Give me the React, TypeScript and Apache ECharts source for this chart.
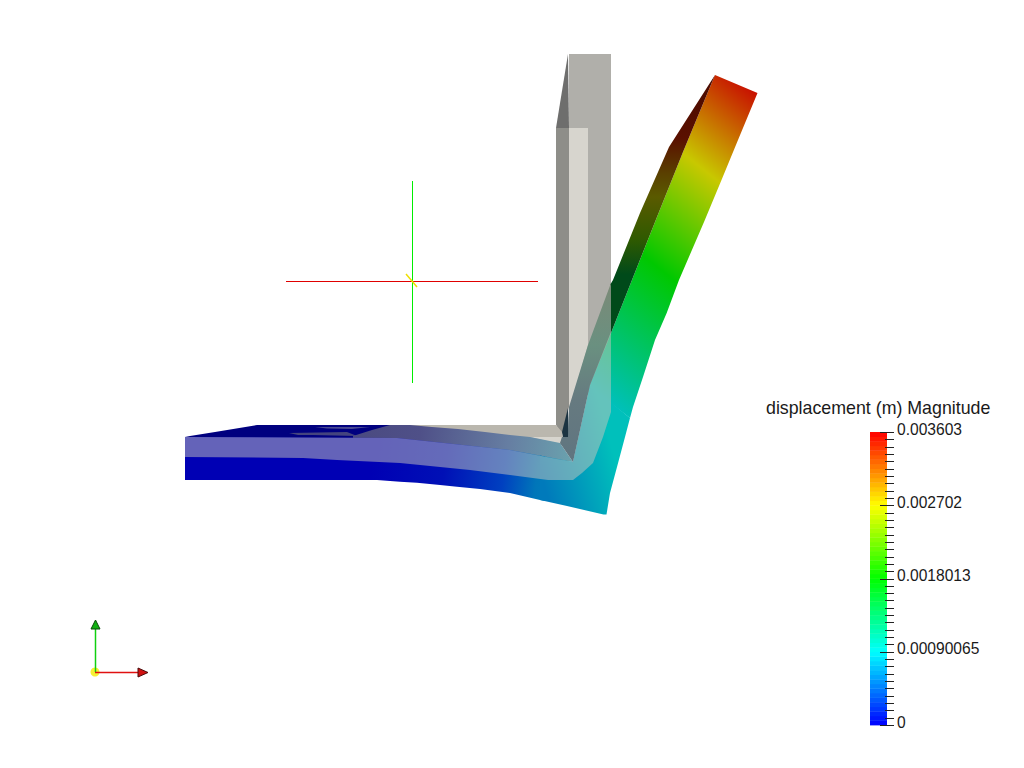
import React, { useEffect, useRef } from "react";
import * as echarts from "echarts";

type P = number[];
const PAGE_W = 1024;
const PAGE_H = 768;

// ---- Projected outlines (view-plane units) ----
const columnRight: P[] = [[569,54],[611,54],[611,350],[569,430]];
const columnWedge: P[] = [[568,54],[556,128],[569,128]];
const columnLeft: P[] = [[556,128],[569,128],[569,407],[562,435],[556,425]];
const columnLight: P[] = [[569,128],[588,128],[588,345],[569,412]];
const cornerSliver: P[] = [[568,408],[562,432],[563,437],[569,437]];
const floorGray: P[] = [[405,425],[556,425],[562,432],[563,437],[568,437],[568,445],[530,445],[500,440]];
const floorLight: P[] = [[530,437],[562,437],[560,444]];
const topNavy: P[] = [[185,438],[185,437],[190,436],[215,432],[257,425],[395,425],[356,439]];
const streakUpper: P[] = [[315,427],[370,427],[352,429],[327,428.5]];
const streakLower: P[] = [[289,433],[347,432],[357,436],[313,435],[298,435]];
const topShaded: P[] = [[353,439],[353,436],[372,430],[390,425],[410,425],[432,427],[458,429],[485,432],[510,435],[530,437],[560,443],[573,462],[510,453],[397,441]];
const frontFlat: P[] = [[185,437],[397,438],[510,450],[545,456.5],[545,501],[540,500],[510,493],[480,489],[457,486.7],[440,485],[417,482.7],[400,481.7],[377,480],[185,480]];
const frontCorner: P[] = [[540,455.5],[573,462],[590,385],[630,418],[625,437],[617,467],[610,493],[606.5,514.5],[603.5,514.5],[567,506],[540,500]];
const frontRising: P[] = [[590,387],[590,385],[611,333],[632,280],[657,217],[683,152],[715,75],[757.5,93],[738,140],[721.5,180],[704,222],[679,280],[666.7,313],[655,340],[643,377],[633,407],[630,418]];
const sideDark: P[] = [[715,75],[669,147],[640,213],[613,280],[610,285],[611,333],[632,280],[657,217],[683,152]];
const veilFront: P[] = [[185,437],[397,438],[510,450],[573,462],[590,385],[611,332],[611,412],[603,437],[593,463],[582,473],[573,480],[548,480],[510,475],[470,470],[400,463],[337,460],[303,458],[185,457]];
const veilSide: P[] = [[611,283],[611,332],[590,385],[573,462],[560,443],[562,437],[568,437],[569,407],[588,345]];

const flatAxis: P[] = [[370,480],[606,515]];
const cornerAxis: P[] = [[540,470],[612.5,449.4]];
const risingAxis: P[] = [[606,515],[873.5,178.3]];
const sideAxis: P[] = [[0,75],[0,285]];
const shadedAxis: P[] = [[353,436],[573,462]];
const veilSideAxis: P[] = [[0,283],[0,462]];

// ---- Scene lines ----
const crossHorizontal: P[] = [[286,281.5],[538,281.5]];
const crossVertical: P[] = [[412.5,181],[412.5,383]];
const crossDiagonal: P[] = [[406,274],[417,287]];
const triadUp: P[] = [[95.5,672],[95.5,628]];
const triadRight: P[] = [[95,672.5],[139,672.5]];
const triadUpCone: P[] = [[95.5,620],[100,629],[91,629]];
const triadRightCone: P[] = [[148,672.5],[138,668],[138,677]];
const triadOrigin: P = [95,672];

// ---- Colour bar ----
const barTitle = "displacement (m) Magnitude";
const barMax = 0.003603;
const barTickLabels = ["0", "0.00090065", "0.0018013", "0.002702", "0.003603"];
const barMinorIntervals = 40;
const barBands = 64;
const barStops = ["#0000ff", "#00ffff", "#00ff00", "#ffff00", "#ff0000"];

type Grad = { axis: P[]; stops: [number, string][] };
type Face = { points: P[]; fill?: string | Grad; stroke?: string; width?: number };

const FACES: Face[] = [
  { points: columnRight, fill: "#b0afaa" },
  { points: columnWedge, fill: "#6e6e6d" },
  { points: columnLeft, fill: "#8e8e89" },
  { points: columnLight, fill: "#d7d5ce" },
  { points: floorGray, fill: "#bab7ae" },
  { points: floorLight, fill: "#d7d5ce" },
  { points: cornerSliver, fill: "#1b3341" },
  { points: topNavy, fill: "#00007f" },
  { points: streakUpper, fill: "#4a4a92" },
  { points: streakLower, fill: "#44447e" },
  { points: topShaded, fill: { axis: shadedAxis, stops: [[0, "#4a4a80"], [0.3, "#4f5088"], [0.7, "#667ea2"], [1, "#6aa3ae"]] } },
  { points: frontFlat, fill: { axis: flatAxis, stops: [[0, "#0000b4"], [0.3, "#0010b6"], [0.55, "#0040c0"], [0.69, "#0076b9"], [0.75, "#007cbb"], [1, "#00aeba"]] } },
  { points: frontCorner, fill: { axis: cornerAxis, stops: [[0, "#007abb"], [1, "#00c0bb"]] } },
  { points: frontRising, fill: { axis: risingAxis, stops: [[0, "#00aeba"], [0.209, "#00c0bb"], [0.526, "#00c800"], [0.77, "#c8c800"], [0.986, "#c81000"], [1, "#c81000"]] } },
  { points: sideDark, fill: { axis: sideAxis, stops: [[0, "#4a0a00"], [0.3, "#5a1000"], [0.47, "#5a4000"], [0.58, "#5a5a00"], [0.78, "#305a00"], [0.95, "#004a1a"], [1, "#004a1a"]] } },
  { points: veilFront, fill: "rgba(200,198,190,0.5)" },
  { points: veilSide, fill: { axis: veilSideAxis, stops: [[0, "#7b8a77"], [0.35, "#6a9080"], [0.65, "#667a80"], [1, "#607580"]] } },
  { points: crossHorizontal, stroke: "#e00000", width: 1 },
  { points: crossVertical, stroke: "#00ee00", width: 1 },
  { points: crossDiagonal, stroke: "#f0e000", width: 1.5 },
  { points: triadUp, stroke: "#10d010", width: 1.5 },
  { points: triadRight, stroke: "#e01010", width: 1.5 },
  { points: triadUpCone, fill: "#10b010", stroke: "#0a4a0a", width: 1 },
  { points: triadRightCone, fill: "#d01010", stroke: "#4a0a0a", width: 1 },
];

function hexRgb(h: string): number[] {
  return [1, 3, 5].map((i) => parseInt(h.slice(i, i + 2), 16));
}
function barColor(t: number): string {
  const f = t * (barStops.length - 1);
  const i = Math.min(Math.floor(f), barStops.length - 2);
  const a = hexRgb(barStops[i]);
  const b = hexRgb(barStops[i + 1]);
  const c = a.map((v, k) => Math.round(v + (b[k] - v) * (f - i)));
  return `rgb(${c[0]},${c[1]},${c[2]})`;
}

export default function App() {
  const ref = useRef<HTMLDivElement>(null);
  useEffect(() => {
    const chart = echarts.init(ref.current!, undefined, { renderer: "svg" });
    const font = "'Liberation Sans', Arial, sans-serif";
    const minorStep = barMax / barMinorIntervals;
    const majorStep = barMax / 4;
    const bandData = Array.from({ length: barBands }, (_, i) => [0, (i * barMax) / barBands, ((i + 1) * barMax) / barBands, i]);
    const tickData = Array.from({ length: barMinorIntervals + 1 }, (_, i) => [1, i * minorStep, i]);

    chart.setOption({
      animation: false,
      backgroundColor: "#ffffff",
      title: {
        text: barTitle,
        left: 761,
        top: 394,
        textStyle: { fontFamily: font, fontSize: 17.8, fontWeight: "normal", color: "#1a1a1a" },
      },
      grid: [
        { left: 0, top: 0, width: PAGE_W, height: PAGE_H },
        { left: 870, top: 432, width: 17, height: 293 },
      ],
      xAxis: [
        { type: "value", gridIndex: 0, min: 0, max: PAGE_W, show: false },
        { type: "value", gridIndex: 1, min: 0, max: 1, show: false },
      ],
      yAxis: [
        { type: "value", gridIndex: 0, min: 0, max: PAGE_H, inverse: true, show: false },
        {
          type: "value", gridIndex: 1, min: 0, max: barMax, interval: majorStep, position: "right",
          axisLine: { show: false }, splitLine: { show: false }, axisTick: { show: false },
          axisLabel: {
            show: true, margin: 10, fontFamily: font, fontSize: 15.6, color: "#1a1a1a", verticalAlign: "bottom", lineHeight: 6,
            formatter: (v: number) => barTickLabels[Math.round(v / majorStep)] ?? "",
          },
        },
      ],
      series: [
        {
          type: "custom", xAxisIndex: 1, yAxisIndex: 1, silent: true,
          data: bandData, encode: { x: 0, y: 1 },
          renderItem: (_: any, api: any) => {
            const a = api.coord([0, api.value(1)]);
            const b = api.coord([1, api.value(2)]);
            const t = (api.value(3) + 0.5) / barBands;
            return { type: "rect", shape: { x: a[0], y: b[1], width: b[0] - a[0], height: a[1] - b[1] + 0.4 }, style: { fill: barColor(t) } };
          },
        },
        {
          type: "custom", xAxisIndex: 1, yAxisIndex: 1, silent: true,
          data: tickData, encode: { x: 0, y: 1 }, z: 3,
          renderItem: (_: any, api: any) => {
            const p = api.coord([1, api.value(1)]);
            const major = api.value(2) % 10 === 0;
            const y = Math.round(p[1]) + 0.5;
            return { type: "line", shape: { x1: p[0] + (major ? -7 : -2), y1: y, x2: p[0] + 7, y2: y }, style: { stroke: "#222", lineWidth: 1 } };
          },
        },
        {
          type: "custom", xAxisIndex: 0, yAxisIndex: 0, silent: true,
          data: FACES.map((f, i) => [f.points[0][0], f.points[0][1], i]), encode: { x: 0, y: 1 },
          renderItem: (_: any, api: any) => {
            const f = FACES[api.value(2)];
            const pts = f.points.map((p) => api.coord(p));
            const style: any = {};
            if (f.fill && typeof f.fill === "object") {
              const [p0, p1] = f.fill.axis.map((p) => api.coord(p));
              style.fill = new echarts.graphic.LinearGradient(p0[0], p0[1], p1[0], p1[1], f.fill.stops.map(([offset, color]) => ({ offset, color })), true);
            } else if (f.fill) style.fill = f.fill;
            else style.fill = "none";
            if (f.stroke) { style.stroke = f.stroke; style.lineWidth = f.width; }
            return { type: f.fill ? "polygon" : "polyline", shape: { points: pts }, style };
          },
        },
        {
          type: "scatter", xAxisIndex: 0, yAxisIndex: 0, silent: true, symbolSize: 9,
          itemStyle: { color: "#f4ec00" }, data: [triadOrigin], z: 1,
        },
      ],
    });
    return () => chart.dispose();
  }, []);
  return <div ref={ref} style={{ position: "absolute", left: 0, top: 0, width: PAGE_W, height: PAGE_H }} />;
}
